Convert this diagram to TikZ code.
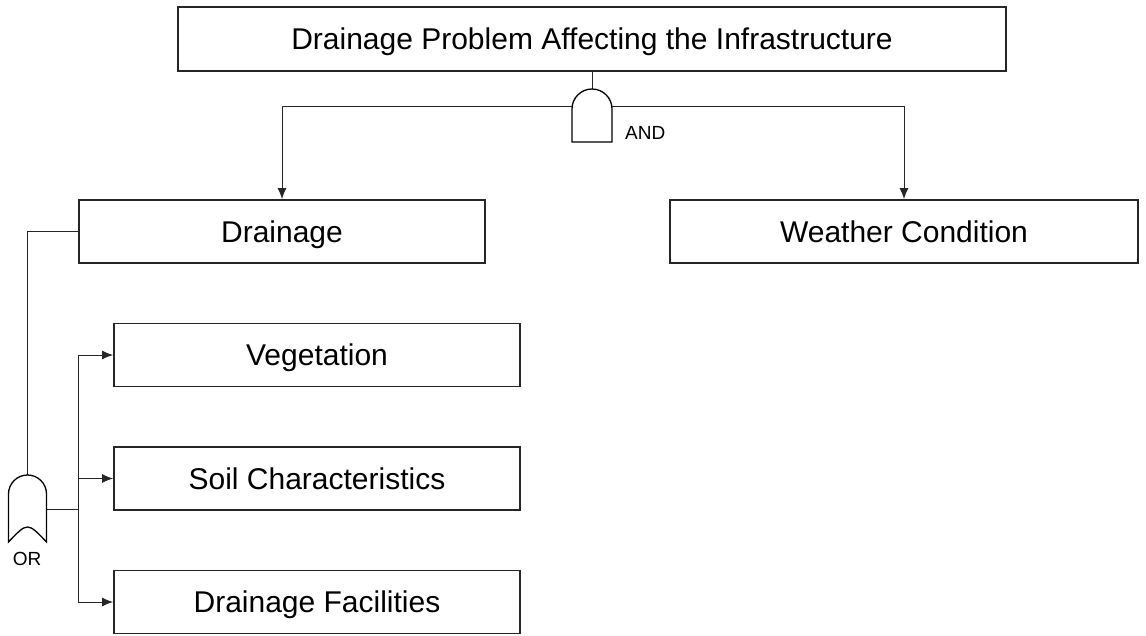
\documentclass[tikz,border=0pt]{standalone}
\usepackage{fontspec}
\setmainfont{Liberation Sans}
\usetikzlibrary{arrows.meta}
\begin{document}
\begin{tikzpicture}[x=1pt,y=-1pt,
  box/.style={draw=black!85,line width=1.8pt,inner sep=0pt,
    font=\fontsize{30}{34}\selectfont,text height=22.4pt,text depth=0.6pt},
  link/.style={draw=black!85,line width=1pt},
  arr/.style={link,-{Latex[length=11pt,width=9pt]}},
  gate/.style={draw=black,line width=1.3pt,fill=white},
  gatelabel/.style={font=\fontsize{19}{22}\selectfont,inner sep=0pt}]
\useasboundingbox (0,0) rectangle (1146,635);

% event boxes
\node[box,minimum width=828pt,minimum height=64pt] (top) at (592,39)
  {Drainage Problem Affecting the Infrastructure};
\node[box,minimum width=406pt,minimum height=63pt] (drain) at (282,231.5) {Drainage};
\node[box,minimum width=468pt,minimum height=63pt] (weather) at (904,231.5) {Weather Condition};
\node[box,minimum width=406pt,minimum height=63pt] (veg) at (317,355) {Vegetation};
\node[box,minimum width=406pt,minimum height=63pt] (soil) at (317,478.5) {Soil Characteristics};
\node[box,minimum width=406pt,minimum height=63pt] (fac) at (317,602) {Drainage Facilities};

% AND gate connections
\coordinate (andtop) at (592,89);
\coordinate (andbus) at (592,106);
\draw[link] (top.south) -- (andtop);
\draw[arr] (andbus) -| (drain.north);
\draw[arr] (andbus) -| (weather.north);
\draw[gate] (572,142) -- (572,109) arc[start angle=180,end angle=360,radius=20]
  -- (612,142) -- cycle;
\node[gatelabel,anchor=west] (andlabel) at (625,133) {AND};

% OR gate connections
\coordinate (ortop) at (27,475);
\coordinate (orout) at (46.5,509);
\coordinate (bus) at (78.3,509);
\draw[link] (drain.west) -| (ortop);
\draw[link] (orout) -- (bus);
\draw[arr] (bus) |- (veg.west);
\draw[arr] (bus |- soil.west) -- (soil.west);
\draw[arr] (bus) |- (fac.west);
\draw[gate] (8.5,542) -- (8.5,494) arc[start angle=180,end angle=360,radius=19]
  -- (46.5,542) .. controls (27.5,522) .. (8.5,542) -- cycle;
\node[gatelabel] (orlabel) at (27,559) {OR};
\end{tikzpicture}
\end{document}
